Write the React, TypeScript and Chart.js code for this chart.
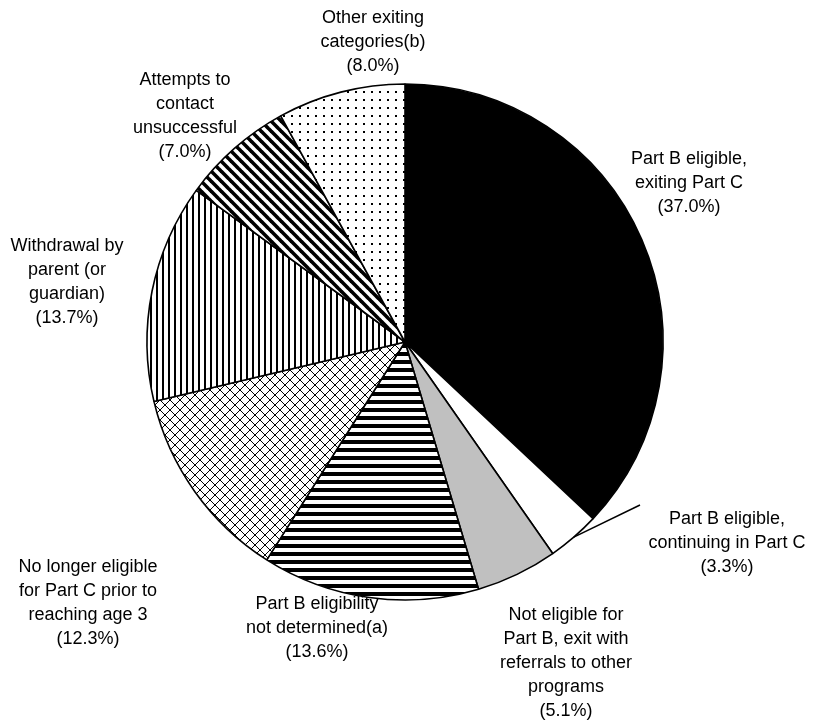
import React, { useEffect, useRef } from "react";
import { Chart, registerables } from "chart.js";

Chart.register(...registerables);

const categories: string[][] = [
  ["Part B eligible,", "exiting Part C"],
  ["Part B eligible,", "continuing in Part C"],
  ["Not eligible for", "Part B, exit with", "referrals to other", "programs"],
  ["Part B eligibility", "not determined(a)"],
  ["No longer eligible", "for Part C prior to", "reaching age 3"],
  ["Withdrawal by", "parent (or", "guardian)"],
  ["Attempts to", "contact", "unsuccessful"],
  ["Other exiting", "categories(b)"],
];
const values: number[] = [37.0, 3.3, 5.1, 13.6, 12.3, 13.7, 7.0, 8.0];
const percentLabels: string[] = ["(37.0%)", "(3.3%)", "(5.1%)", "(13.6%)", "(12.3%)", "(13.7%)", "(7.0%)", "(8.0%)"];

// label anchor (centre of first text line) relative to pie centre
const labelOffsets: [number, number][] = [
  [284, -183],
  [322, 177],
  [161, 273],
  [-88, 262],
  [-317, 225],
  [-338, -96],
  [-220, -262],
  [-32, -324],
];

function makePattern(kind: string): CanvasPattern | string {
  const c = document.createElement("canvas");
  const ctx = c.getContext("2d")!;
  if (kind === "black") return "#000000";
  if (kind === "white") return "#ffffff";
  if (kind === "gray") return "#c0c0c0";
  if (kind === "hlines") {
    c.width = 8; c.height = 8;
    ctx.fillStyle = "#fff"; ctx.fillRect(0, 0, 8, 8);
    ctx.fillStyle = "#000"; ctx.fillRect(0, 0, 8, 4);
  } else if (kind === "vlines") {
    c.width = 6; c.height = 6;
    ctx.fillStyle = "#fff"; ctx.fillRect(0, 0, 6, 6);
    ctx.fillStyle = "#000"; ctx.fillRect(0, 0, 2, 6);
  } else if (kind === "cross") {
    c.width = 10; c.height = 10;
    ctx.fillStyle = "#fff"; ctx.fillRect(0, 0, 10, 10);
    ctx.fillStyle = "#000";
    for (let i = 0; i < 10; i++) {
      ctx.fillRect(i, i, 1, 1);
      ctx.fillRect(9 - i, i, 1, 1);
    }
  } else if (kind === "diag") {
    c.width = 10; c.height = 10;
    ctx.fillStyle = "#fff"; ctx.fillRect(0, 0, 10, 10);
    ctx.strokeStyle = "#000"; ctx.lineWidth = 3.6;
    for (const o of [-10, 0, 10]) {
      ctx.beginPath(); ctx.moveTo(o - 1, -1); ctx.lineTo(o + 11, 11); ctx.stroke();
    }
  } else if (kind === "dots") {
    c.width = 8; c.height = 8;
    ctx.fillStyle = "#fff"; ctx.fillRect(0, 0, 8, 8);
    ctx.fillStyle = "#000"; ctx.fillRect(3, 3, 2, 2);
  }
  return ctx.createPattern(c, "repeat")!;
}

const fillKinds: string[] = ["black", "white", "gray", "hlines", "cross", "vlines", "diag", "dots"];

const labelPlugin = {
  id: "sliceLabels",
  afterDraw(chart: any) {
    const ctx = chart.ctx;
    const meta = chart.getDatasetMeta(0);
    ctx.save();
    ctx.font = '18px "Liberation Sans", Arial, sans-serif';
    ctx.fillStyle = "#000";
    ctx.textAlign = "center";
    ctx.textBaseline = "middle";
    meta.data.forEach((arc: any, i: number) => {
      const p = arc.getProps(["x", "y", "startAngle", "endAngle", "outerRadius"], true);
      const lx = p.x + labelOffsets[i][0];
      const ly = p.y + labelOffsets[i][1];
      const lines = [...categories[i], percentLabels[i]];
      lines.forEach((t, k) => ctx.fillText(t, lx, ly + k * 24));
      if (i === 1) {
        const mid = (p.startAngle + p.endAngle) / 2;
        const ex = p.x + Math.cos(mid) * p.outerRadius;
        const ey = p.y + Math.sin(mid) * p.outerRadius;
        ctx.strokeStyle = "#000";
        ctx.lineWidth = 1.5;
        ctx.beginPath();
        ctx.moveTo(ex, ey);
        ctx.lineTo(lx - 87, ly - 14);
        ctx.stroke();
      }
    });
    ctx.restore();
  },
};

export default function App() {
  const ref = useRef<HTMLCanvasElement>(null);
  useEffect(() => {
    const chart = new Chart(ref.current!, {
      type: "pie",
      data: {
        labels: categories.map((c) => c.join(" ")),
        datasets: [
          {
            data: values,
            backgroundColor: fillKinds.map(makePattern) as any,
            borderColor: "#000",
            borderWidth: 1.6,
          },
        ],
      },
      options: {
        responsive: false,
        animation: false,
        radius: 258,
        layout: { padding: { left: 0, right: 22, top: 0, bottom: 37 } },
        plugins: { legend: { display: false }, tooltip: { enabled: false } },
      } as any,
      plugins: [labelPlugin],
    });
    return () => chart.destroy();
  }, []);
  return (
    <div style={{ position: "absolute", left: 0, top: 0, width: 832, height: 721, background: "#fff" }}>
      <canvas ref={ref} width={832} height={721} />
    </div>
  );
}
